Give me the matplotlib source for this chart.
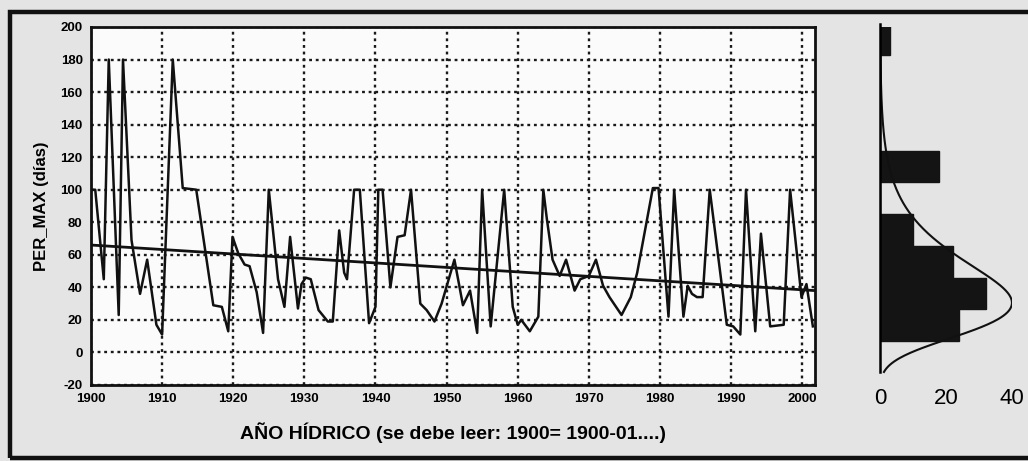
import numpy as np
import matplotlib.pyplot as plt
from matplotlib.patches import Rectangle

plt.rcParams['font.family'] = ['Liberation Sans', 'DejaVu Sans']
plt.rcParams['axes.unicode_minus'] = False

# serie PER_MAX (año, dias)
years = [1900.0, 1900.6, 1901.8, 1902.5, 1903.9, 1904.5, 1905.7, 1906.9, 1907.9, 1909.2,
         1910.0, 1911.5, 1912.9, 1914.8, 1917.2, 1918.4, 1919.3, 1919.9, 1920.7, 1921.6,
         1922.3, 1923.3, 1924.2, 1925.0, 1926.3, 1927.2, 1928.0, 1929.1, 1929.6, 1930.2,
         1930.9, 1932.0, 1933.3, 1934.0, 1934.9, 1935.6, 1936.0, 1937.0, 1937.8, 1939.1,
         1940.0, 1940.4, 1941.0, 1942.1, 1943.1, 1944.1, 1945.0, 1946.3, 1947.2, 1948.3,
         1949.3, 1951.1, 1952.3, 1953.3, 1954.3, 1955.0, 1956.2, 1958.1, 1959.3, 1960.0,
         1960.5, 1961.7, 1962.9, 1963.6, 1964.1, 1964.9, 1965.9, 1966.8, 1968.0, 1968.8,
         1970.0, 1971.0, 1972.0, 1972.9, 1974.6, 1975.9, 1976.8, 1979.0, 1979.8, 1981.2,
         1982.0, 1983.3, 1983.9, 1984.5, 1985.2, 1986.0, 1987.0, 1989.4, 1990.3, 1991.3,
         1992.1, 1993.4, 1994.2, 1995.5, 1997.4, 1998.3, 1999.9, 2000.6, 2001.5]
per_max = [100, 100, 45, 180, 23, 180, 69, 36, 57, 17,
           11, 180, 101, 100, 29, 28, 13, 71, 61, 54,
           53, 37, 12, 100, 45, 28, 71, 27, 42, 46,
           45, 26, 19, 19, 75, 49, 45, 100, 100, 18,
           28, 100, 100, 40, 71, 72, 100, 30, 26, 19,
           30, 57, 29, 38, 12, 100, 16, 100, 28, 17,
           20, 13, 22, 100, 82, 57, 47, 57, 38, 45,
           47, 57, 41, 34, 23, 34, 49, 101, 101, 22,
           100, 22, 41, 36, 34, 34, 100, 17, 16, 11,
           100, 13, 73, 16, 17, 100, 34, 42, 16]

# recta de tendencia (extremos leidos)
trend_years = [1900, 2001.8]
trend_vals = [66, 38]

# histograma lateral
bin_edges = [7, 26.5, 46, 65.5, 85, 104.5, 124, 143.5, 163, 182.5, 202]
counts = [24, 32, 22, 10, 0, 18, 0, 0, 0, 3]
# curva ajustada (tipo Gumbel)
fit_mode, fit_scale, fit_peak = 30.5, 23.0, 40.0

fig = plt.figure(figsize=(10.28, 4.61), dpi=100)
fig.patch.set_facecolor('#e4e4e4')

# marco exterior
fig.add_artist(Rectangle((0.0097, 0.0065), 1.2, 0.968, transform=fig.transFigure,
                         fill=False, lw=3.2, ec='#111111'))

ax = fig.add_axes([0.0885, 0.1649, 0.7043, 0.7766])
ax.set_facecolor('#fbfbfb')
ax.plot(years, per_max, color='#111111', lw=1.8)
ax.plot(trend_years, trend_vals, color='#111111', lw=2)

ax.set_xlim(1900, 2001.8)
ax.set_ylim(-20, 200)
ax.set_xticks(np.arange(1900, 2001, 10))
ax.set_yticks(np.arange(-20, 201, 20))
ax.grid(True, color='#1a1a1a', linestyle=(0, (1.2, 1.6)), lw=1.7)
ax.tick_params(length=0, labelsize=9.5, pad=6)
for lab in ax.get_xticklabels() + ax.get_yticklabels():
    lab.set_fontweight('bold')
for s in ax.spines.values():
    s.set_linewidth(2)
    s.set_color('#111111')
ax.set_ylabel('PER_MAX (días)', fontsize=12, fontweight='bold', labelpad=8)
ax.set_xlabel('AÑO HÍDRICO (se debe leer: 1900= 1900-01....)', fontsize=14,
              fontweight='bold', labelpad=12)

# histograma
hx = fig.add_axes([0.856, 0.1649, 0.1284, 0.7766])
hx.patch.set_alpha(0)
lefts = np.array(bin_edges[:-1])
heights = np.diff(bin_edges)
hx.barh(lefts, counts, height=heights, align='edge', color='#141414', edgecolor='#141414')
yy = np.linspace(-12, 200, 400)
z = (yy - fit_mode) / fit_scale
dens = np.exp(-(z + np.exp(-z))) / np.exp(-1) * fit_peak
hx.plot(dens, yy, color='#111111', lw=1.5)
hx.set_xlim(0, 40)
hx.set_ylim(-20, 200)
for k in ['top', 'right', 'bottom']:
    hx.spines[k].set_visible(False)
hx.spines['left'].set_linewidth(1.8)
hx.spines['left'].set_bounds(-12, 202)
hx.set_yticks([])
hx.set_xticks([0, 20, 40])
hx.tick_params(length=0, labelsize=16, pad=2)

plt.savefig('out.png', dpi=100, facecolor=fig.get_facecolor())
